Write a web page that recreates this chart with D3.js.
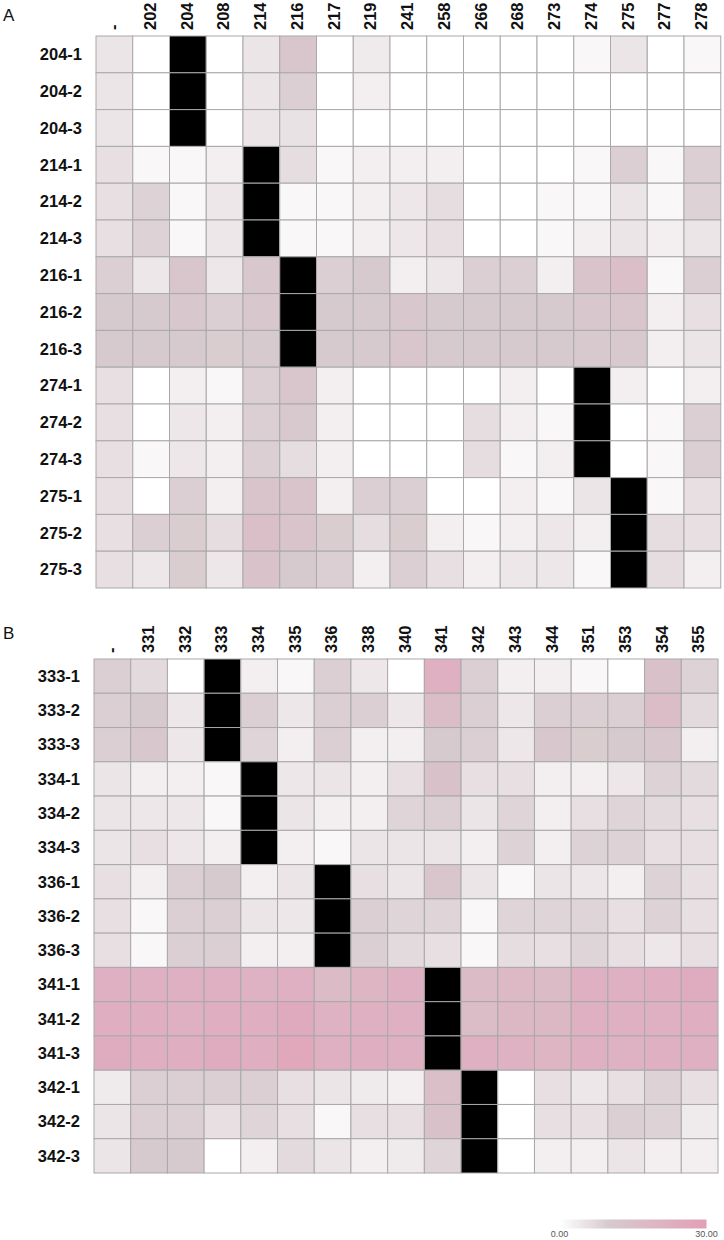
<!DOCTYPE html>
<html>
<head>
<meta charset="utf-8">
<script src="https://cdn.jsdelivr.net/npm/d3@7"></script>
<style>
  html, body { margin: 0; padding: 0; background: #fff; }
  svg { display: block; }
</style>
</head>
<body>
<svg id="chart" width="724" height="1240"></svg>
<script>
// ---- Data ----
const colsA = ["-", "202", "204", "208", "214", "216", "217", "219", "241", "258", "266", "268", "273", "274", "275", "277", "278"];
const rowsA = ["204-1", "204-2", "204-3", "214-1", "214-2", "214-3", "216-1", "216-2", "216-3", "274-1", "274-2", "274-3", "275-1", "275-2", "275-3"];
// null = self (drawn black)
const valuesA = [
  [5, 0, null, 0, 5, 12, 0, 4, 0, 0, 0, 0, 0, 1.5, 5, 0, 1.5],
  [5, 0, null, 0, 5, 9, 0, 3, 0, 0, 0, 0, 0, 0, 0, 0, 0],
  [5, 0, null, 0, 5, 5.5, 0, 0, 0, 0, 0, 0, 0, 0, 0, 0, 0],
  [6, 1.5, 1.5, 3, null, 6.5, 1.5, 3, 3, 3, 0, 0, 0, 1.5, 9, 1.5, 9],
  [6, 8.5, 1.5, 4.5, null, 1.5, 1.5, 3, 4.5, 6.5, 0, 0, 1.5, 1.5, 5, 1.5, 8.5],
  [6, 8.5, 1.5, 4.5, null, 1.5, 1.5, 3, 4.5, 6, 0, 0, 1.5, 3, 5, 3, 5],
  [9, 4.5, 12, 4.5, 11, null, 9, 10, 3, 4.5, 9, 9, 3, 13, 15, 1.5, 9],
  [10, 10, 11.5, 9, 11, null, 10, 10, 11, 10, 10, 10, 10, 11.5, 12, 3, 6],
  [10, 10, 10, 9.5, 10, null, 10, 10, 12, 10, 10, 10, 10, 10.5, 10.5, 3, 5],
  [6, 0, 3, 1.5, 9, 12, 3, 0, 0, 0, 0, 3, 0, null, 3, 0, 3],
  [6, 0, 4.5, 3, 9, 10.5, 3, 0, 0, 0, 6.5, 3, 1.5, null, 0, 1.5, 9],
  [6, 1.5, 4.5, 3, 9, 6.5, 3, 0, 0, 0, 6.5, 1.5, 3, null, 0, 1.5, 9],
  [6, 0, 9, 3, 13, 13, 3, 9, 9, 0, 0, 3, 1.5, 5, null, 1.5, 6],
  [6, 9, 9.5, 6.5, 15, 13, 9.5, 6.5, 9.5, 3, 1.5, 3, 4.5, 3, null, 6.5, 6],
  [6, 4.5, 9.5, 4.5, 13.5, 10, 9, 3, 9, 6, 3, 4.5, 4.5, 1.5, null, 6.5, 3]
];

const colsB = ["-", "331", "332", "333", "334", "335", "336", "338", "340", "341", "342", "343", "344", "351", "353", "354", "355"];
const rowsB = ["333-1", "333-2", "333-3", "334-1", "334-2", "334-3", "336-1", "336-2", "336-3", "341-1", "341-2", "341-3", "342-1", "342-2", "342-3"];
const valuesB = [
  [9, 7, 0, null, 3, 1.5, 9, 4.5, 0, 22, 9, 3, 3, 1.5, 0, 14, 8.5],
  [9, 10, 4.5, null, 9, 4.5, 9, 9, 4.5, 16, 9, 4.5, 9, 9, 9, 16, 7],
  [9, 11, 4.5, null, 8, 3, 9, 3, 3, 10, 9, 4.5, 11, 9.5, 10, 11, 3],
  [5, 3, 3, 1.5, null, 4.5, 5, 3, 6, 14, 6, 6, 3, 3, 4.5, 8.5, 7],
  [5, 4.5, 4.5, 1.5, null, 5, 3, 3, 8, 9, 5, 8, 3, 6, 8, 7, 6],
  [5, 6, 4.5, 3, null, 3, 1.5, 5, 5, 5, 3, 8.5, 3, 8.5, 8.5, 6, 6],
  [6, 3, 9, 10, 3, 5, null, 6, 5, 12, 5, 1.5, 5, 4.5, 3, 8.5, 6],
  [6, 1.5, 9, 9, 5, 4.5, null, 9, 8, 8, 1.5, 8, 8, 8, 6, 8.5, 6],
  [6, 1.5, 9, 9, 3, 3, null, 9, 7, 6, 1.5, 6.5, 6, 8, 6, 4.5, 6],
  [22, 22, 22, 22, 21, 22, 17, 20, 22, null, 17, 18, 17, 22, 22, 23, 24],
  [23, 23, 22, 23, 23, 25, 21, 22, 22, null, 16, 19, 19, 22, 22, 22, 23],
  [24, 23, 23, 24, 23, 26, 22, 23, 22, null, 22, 21, 20, 22, 21, 22, 22],
  [4, 9, 9, 9, 9, 6, 5, 4, 3, 15, null, 0, 6, 4.5, 6, 8.5, 6],
  [5, 9, 9, 6, 8, 6, 1.5, 6, 6, 14, null, 0, 6, 6, 9, 8.5, 4],
  [5, 10, 10, 0, 3, 7, 5, 3, 4, 8, null, 0, 3, 3, 5, 3, 3]
];

const legendTicks = [0, 30];

// ---- Drawing ----
const svg = d3.select("#chart");
const FONT = "'Liberation Sans', Arial, Helvetica, sans-serif";

const color = d3.scaleLinear()
  .domain([0, 10, 30])
  .range(["#ffffff", "#d7cace", "#e39fb8"])
  .clamp(true);

function panel(opts) {
  const { cols, rows, values, left, right, top, bottom, letter, letterY } = opts;
  const x = d3.scaleBand().domain(cols).range([left, right]).padding(0);
  const y = d3.scaleBand().domain(rows).range([top, bottom]).padding(0);
  const g = svg.append("g");

  g.append("text")
    .attr("x", 3).attr("y", letterY)
    .attr("font-family", FONT).attr("font-size", 17)
    .attr("fill", "#111")
    .text(letter);

  const cells = [];
  rows.forEach((r, i) => cols.forEach((c, j) => cells.push({ r, c, v: values[i][j] })));

  g.selectAll("rect.cell").data(cells).enter().append("rect")
    .attr("class", "cell")
    .attr("x", d => x(d.c))
    .attr("y", d => y(d.r))
    .attr("width", x.bandwidth())
    .attr("height", y.bandwidth())
    .attr("fill", d => d.v === null ? "#000" : color(d.v))
    .attr("stroke", "#a9a9a9")
    .attr("stroke-width", 1);

  // row labels
  g.selectAll("text.row").data(rows).enter().append("text")
    .attr("class", "row")
    .attr("x", left - 14)
    .attr("y", d => y(d) + y.bandwidth() / 2)
    .attr("dy", "0.35em")
    .attr("text-anchor", "end")
    .attr("font-family", FONT).attr("font-weight", "bold").attr("font-size", 16.5)
    .attr("fill", "#111")
    .text(d => d);

  // column labels (rotated)
  g.selectAll("text.col").data(cols).enter().append("text")
    .attr("class", "col")
    .attr("transform", d => `translate(${x(d) + x.bandwidth() / 2 - 1},${top - 6}) rotate(-90)`)
    .attr("dy", "0.35em")
    .attr("text-anchor", "start")
    .attr("font-family", FONT).attr("font-weight", "bold").attr("font-size", 16.5)
    .attr("fill", "#111")
    .text(d => d);
}

panel({ cols: colsA, rows: rowsA, values: valuesA, left: 96, right: 720.75, top: 36, bottom: 588, letter: "A", letterY: 21 });
panel({ cols: colsB, rows: rowsB, values: valuesB, left: 94, right: 718, top: 659, bottom: 1173, letter: "B", letterY: 639 });

// ---- Legend ----
const lx = d3.scaleLinear().domain([0, 30]).range([559.5, 706.5]);
const defs = svg.append("defs");
const grad = defs.append("linearGradient").attr("id", "lg").attr("x1", "0%").attr("x2", "100%");
d3.range(0, 31, 2).forEach(v => {
  grad.append("stop").attr("offset", (v / 30 * 100) + "%").attr("stop-color", color(v));
});
svg.append("rect")
  .attr("x", lx(0)).attr("y", 1219.5)
  .attr("width", lx(30) - lx(0)).attr("height", 9)
  .attr("fill", "url(#lg)");
svg.selectAll("text.leg").data(legendTicks).enter().append("text")
  .attr("class", "leg")
  .attr("x", d => lx(d))
  .attr("y", 1236.5)
  .attr("text-anchor", "middle")
  .attr("font-family", FONT).attr("font-size", 9)
  .attr("fill", "#555")
  .text(d => d3.format(".2f")(d));
</script>
</body>
</html>
